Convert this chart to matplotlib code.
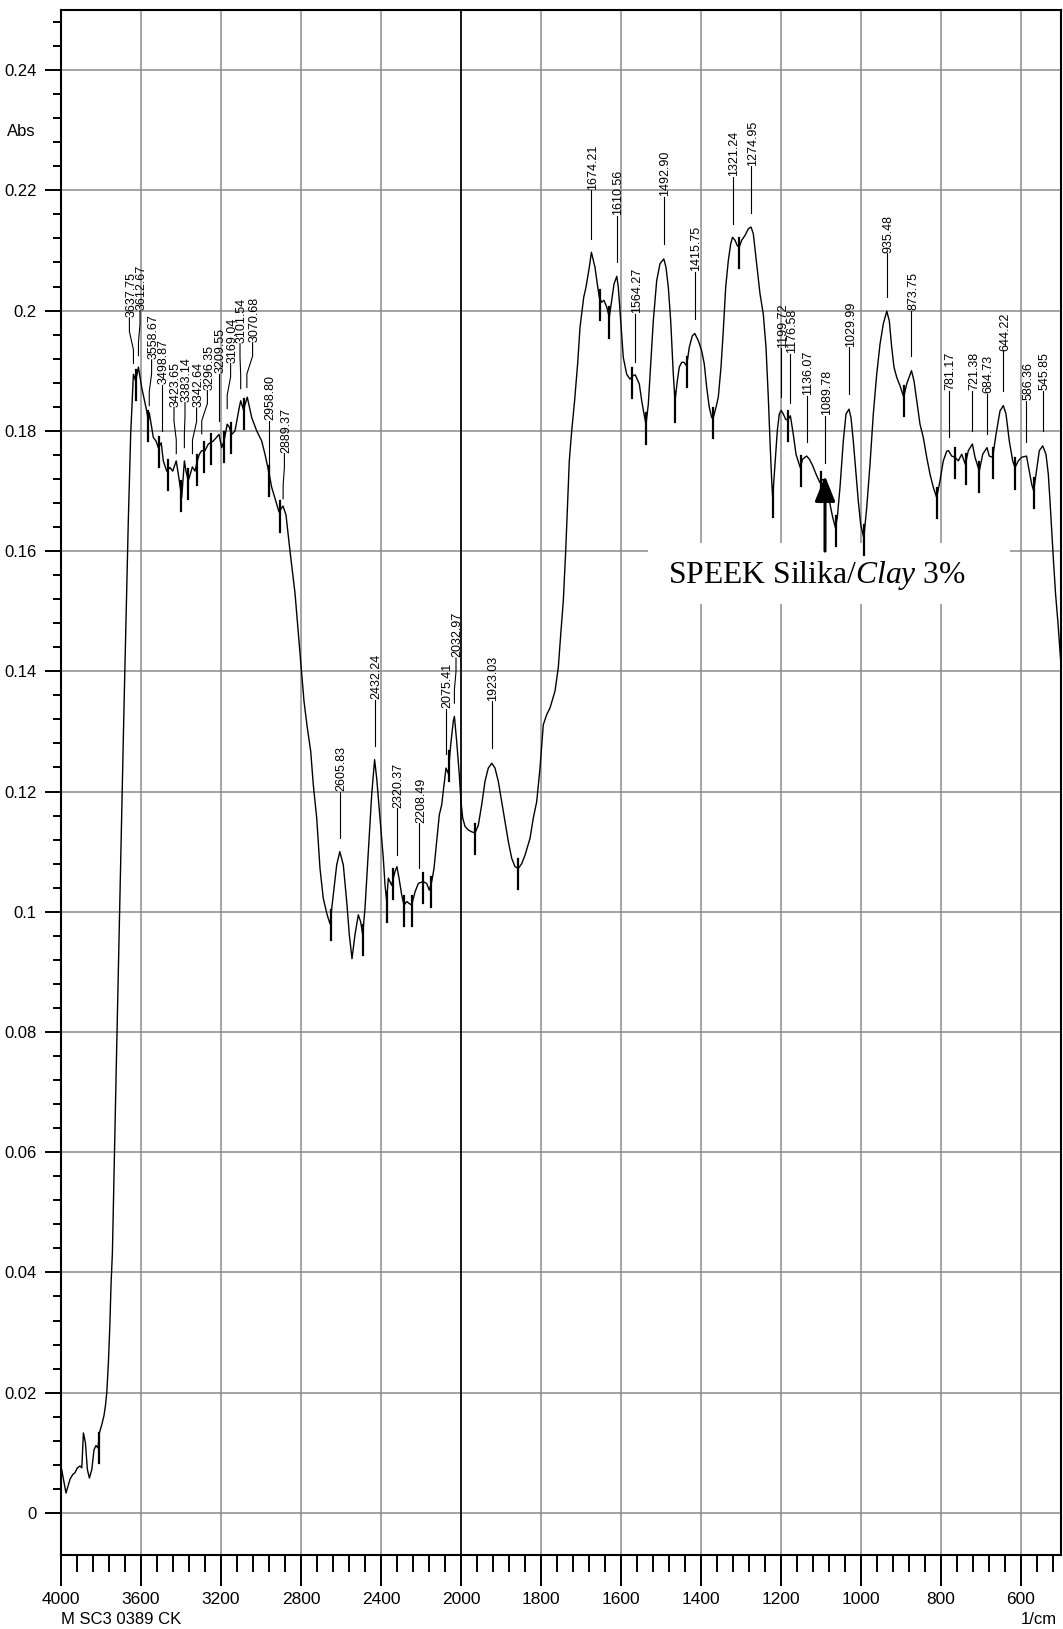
import numpy as np
import matplotlib
matplotlib.use("Agg")
import matplotlib.pyplot as plt
from matplotlib import font_manager
from matplotlib.ticker import FixedLocator, FuncFormatter, NullFormatter
from matplotlib.patches import Rectangle, FancyArrowPatch

# ---------------- data ----------------
wavenumber = [
    3996.5, 3975, 3955, 3941, 3930, 3918, 3905, 3896, 3888, 3878, 3868, 3858, 3846, 3835,
    3825, 3815, 3808, 3796, 3785, 3778, 3771, 3763, 3756, 3750, 3743, 3725, 3705, 3685,
    3663.5, 3651.5, 3638, 3626.5, 3613, 3596.5, 3571.5, 3563.5, 3558.5, 3538.5, 3525,
    3513.5, 3499, 3488.5, 3471.5, 3455, 3441.5, 3424, 3413.5, 3396.5, 3383, 3375, 3363.5,
    3343, 3330, 3318.5, 3308.5, 3296.5, 3280, 3263.5, 3238.5, 3210, 3196.5, 3185, 3169,
    3158.5, 3146.5, 3130, 3108.5, 3101.5, 3087.5, 3068.5, 3046.5, 3021.5, 2996.5, 2980,
    2959, 2946.5, 2921.5, 2910, 2890, 2875, 2855, 2830, 2805, 2785, 2768.5, 2751.5, 2738.5,
    2721.5, 2705, 2688.5, 2668.5, 2655, 2638.5, 2621.5, 2606, 2588.5, 2571.5, 2558.5, 2545,
    2530, 2513.5, 2501.5, 2491.5, 2480, 2463.5, 2446.5, 2432, 2421.5, 2405, 2388.5, 2380,
    2371.5, 2363.5, 2355, 2346.5, 2338.5, 2330, 2320.5, 2310, 2296.5, 2285, 2271.5, 2260,
    2246.5, 2230, 2213.5, 2208.5, 2188.5, 2171.5, 2158.5, 2146.5, 2135, 2121.5, 2108.5,
    2096.5, 2085, 2075, 2063.5, 2051.5, 2038.5, 2033, 2021.5, 2008.5, 2000,
    1995.75, 1990, 1981.75, 1973.25, 1965, 1956.75, 1948.25, 1940, 1931.75, 1923, 1915,
    1906.75, 1898.25, 1890, 1881.75, 1873.25, 1865, 1856.75, 1848.25, 1840, 1827.5,
    1819.25, 1810.75, 1802.5, 1794.25, 1785.75, 1777.5, 1765, 1756.75, 1750.75, 1744.25,
    1738.25, 1733.25, 1729.25, 1723.25, 1716, 1708, 1702.5, 1693.25, 1687.5, 1679.25,
    1674, 1665, 1659.25, 1654.25, 1648.25, 1642.5, 1635.75, 1629.25, 1623.25, 1617.5,
    1610.5, 1606.75, 1600.75, 1594.25, 1585.75, 1577.5, 1569.25, 1564.25, 1554.25,
    1548.25, 1542.5, 1537.5, 1531.75, 1525.75, 1519.25, 1510.75, 1502.5, 1493, 1487.5,
    1481.75, 1475.75, 1469.25, 1465, 1459.25, 1454.25, 1448.25, 1442.5, 1436, 1429.25,
    1421.75, 1415.75, 1406.75, 1398.25, 1391.75, 1385.75, 1379.25, 1373.25, 1369.25,
    1362.5, 1356.75, 1350, 1344.25, 1338.25, 1331.75, 1325.75, 1321.25, 1315, 1309.25,
    1304.25, 1298.25, 1290, 1281.75, 1275, 1269.25, 1260.75, 1252.5, 1244.25, 1237.5,
    1231.75, 1227.5, 1223.25, 1220.75, 1215, 1209.25, 1204.25, 1199.75, 1194.25, 1188.25,
    1183, 1176.5, 1169.25, 1162.5, 1152, 1145.75, 1136, 1129.25, 1120.75, 1112.5, 1103,
    1095.75, 1090, 1084.25, 1077.5, 1070.75, 1064, 1059.25, 1052.5, 1044.25, 1037.5, 1030,
    1025, 1019.25, 1012.5, 1006.75, 1000.75, 993, 985.75, 977.5, 969.25, 960.75, 952.5,
    944.25, 935.5, 929.25, 923.25, 917.5, 910.75, 902.5, 893.25, 885.75, 873.75, 867.5,
    860.75, 852.5, 844.25, 835.75, 827.5, 819.25, 810.75, 802.5, 794.25, 785.75, 781.25,
    773.25, 765, 756.75, 748.25, 739, 731.75, 721.5, 715, 704.25, 695.75, 685, 679.25,
    670.75, 662.5, 652.5, 644.25, 637.5, 629.25, 620.75, 615, 606.75, 598.25, 586.25,
    579.25, 573.25, 568.25, 562.5, 554.25, 545.75, 537.5, 531.75, 527.5, 523.25, 519.25,
    513.75, 507.5, 500,
]
absorbance = [
    0.0072, 0.0033, 0.0056, 0.0064, 0.0067, 0.0075, 0.0078, 0.0075, 0.0133, 0.0117, 0.0072,
    0.0058, 0.0072, 0.0105, 0.0112, 0.0108, 0.0133, 0.0147, 0.0162, 0.0178, 0.0200, 0.0250,
    0.0310, 0.0378, 0.0433, 0.0720, 0.1030, 0.1340,
    0.1650, 0.1795, 0.1894, 0.1883, 0.1906, 0.1872, 0.1833, 0.1817, 0.1830, 0.1789, 0.1783,
    0.1772, 0.1780, 0.1750, 0.1733, 0.1739, 0.1733, 0.1750, 0.1728, 0.1689, 0.1750, 0.1733,
    0.1717, 0.1740, 0.1733, 0.1750, 0.1761, 0.1767, 0.1767, 0.1778, 0.1783, 0.1794, 0.1772,
    0.1783, 0.1811, 0.1806, 0.1794, 0.1800, 0.1839, 0.1850, 0.1835, 0.1856, 0.1822, 0.1800,
    0.1783, 0.1761, 0.1728, 0.1706, 0.1678, 0.1665, 0.1675, 0.1660, 0.1600, 0.1530, 0.1430,
    0.1350, 0.1306, 0.1267, 0.1211, 0.1156, 0.1072, 0.1022, 0.0994, 0.0980, 0.1028, 0.1078,
    0.1100, 0.1078, 0.1017, 0.0962, 0.0922, 0.0962, 0.0995, 0.0983, 0.0962, 0.1006, 0.1100,
    0.1195, 0.1253, 0.1222, 0.1156, 0.1089, 0.1045, 0.1017, 0.1056, 0.1050, 0.1044, 0.1056,
    0.1067, 0.1075, 0.1056, 0.1028, 0.1011, 0.1017, 0.1014, 0.1011, 0.1033, 0.1047, 0.1048,
    0.1050, 0.1047, 0.1036, 0.1050, 0.1072, 0.1117, 0.1161, 0.1178, 0.1211, 0.1239, 0.1230,
    0.1278, 0.1317, 0.1325, 0.1283, 0.1228, 0.1183,
    0.1156, 0.1142, 0.1136, 0.1133, 0.1131, 0.1144, 0.1178, 0.1217, 0.1239, 0.1247, 0.1239,
    0.1217, 0.1183, 0.1150, 0.1117, 0.1089, 0.1075, 0.1072, 0.1080, 0.1094, 0.1122, 0.1156,
    0.1183, 0.1239, 0.1311, 0.1328, 0.1339, 0.1367, 0.1406, 0.1461, 0.1517, 0.1600, 0.1683,
    0.1750, 0.1800, 0.1850, 0.1915, 0.1972, 0.2022, 0.2039, 0.2072, 0.2097, 0.2072, 0.2044,
    0.2022, 0.2014, 0.2017, 0.2006, 0.1989, 0.2017, 0.2044, 0.2057, 0.2039, 0.1983, 0.1922,
    0.1894, 0.1886, 0.1892, 0.1893, 0.1878, 0.1850, 0.1828, 0.1811, 0.1844, 0.1911, 0.1983,
    0.2050, 0.2078, 0.2086, 0.2072, 0.2039, 0.1983, 0.1894, 0.1850, 0.1883, 0.1906, 0.1914,
    0.1914, 0.1908, 0.1939, 0.1958, 0.1962, 0.1950, 0.1933, 0.1911, 0.1872, 0.1839, 0.1822,
    0.1822, 0.1839, 0.1856, 0.1906, 0.1967, 0.2039, 0.2083, 0.2111, 0.2122, 0.2117, 0.2108,
    0.2106, 0.2117, 0.2125, 0.2136, 0.2139, 0.2128, 0.2078, 0.2028, 0.1994, 0.1939, 0.1856,
    0.1783, 0.1717, 0.1689, 0.1744, 0.1800, 0.1828, 0.1834, 0.1828, 0.1819, 0.1818, 0.1825,
    0.1794, 0.1761, 0.1739, 0.1753, 0.1758, 0.1753, 0.1742, 0.1728, 0.1714, 0.1719, 0.1719,
    0.1706, 0.1678, 0.1656, 0.1639, 0.1656, 0.1706, 0.1783, 0.1828, 0.1836, 0.1822, 0.1783,
    0.1728, 0.1683, 0.1644, 0.1622, 0.1672, 0.1744, 0.1828, 0.1894, 0.1944, 0.1978, 0.1999,
    0.1983, 0.1939, 0.1906, 0.1889, 0.1875, 0.1856, 0.1878, 0.1900, 0.1883, 0.1850, 0.1811,
    0.1789, 0.1756, 0.1728, 0.1706, 0.1689, 0.1717, 0.1750, 0.1766, 0.1767, 0.1758, 0.1756,
    0.1750, 0.1761, 0.1744, 0.1767, 0.1778, 0.1756, 0.1733, 0.1761, 0.1772, 0.1758, 0.1756,
    0.1794, 0.1833, 0.1842, 0.1828, 0.1783, 0.1750, 0.1739, 0.1750, 0.1756, 0.1758, 0.1733,
    0.1711, 0.1700, 0.1728, 0.1767, 0.1775, 0.1761, 0.1728, 0.1683, 0.1633, 0.1589, 0.1530,
    0.1480, 0.1410,
]

# peak labels: value text, x of label (cm-1), label base height, leader end height
peak_labels = ["3637.75", "3612.67", "3558.67", "3498.87", "3423.65", "3383.14", "3342.64",
               "3296.35", "3209.55", "3169.04", "3101.54", "3070.68", "2958.80", "2889.37",
               "2605.83", "2432.24", "2320.37", "2208.49", "2075.41", "2032.97", "1923.03",
               "1674.21", "1610.56", "1564.27", "1492.90", "1415.75", "1321.24", "1274.95",
               "1199.72", "1176.58", "1136.07", "1089.78", "1029.99", "935.48", "873.75",
               "781.17", "721.38", "684.73", "644.22", "586.36", "545.85"]
label_x = [3658, 3605, 3547, 3497, 3435, 3380, 3322, 3268, 3212, 3152, 3105, 3042, 2960, 2883,
           2605, 2432, 2320, 2208, 2077, 2025, 1923,
           1674, 1610.5, 1564, 1493, 1416, 1321, 1275, 1200, 1177, 1136, 1090, 1030, 935.5,
           874, 781, 721.5, 685, 644, 586.5, 546]
label_base = [0.1988, 0.2000, 0.1918, 0.1877, 0.1839, 0.1847, 0.1838, 0.1867, 0.1895, 0.1912,
              0.1945, 0.1947, 0.1817, 0.1762, 0.1200, 0.1352, 0.1172, 0.1147, 0.1337, 0.1422,
              0.1350, 0.2200, 0.2158, 0.1995, 0.2189, 0.2064, 0.2222, 0.2240, 0.1937, 0.1928,
              0.1858, 0.1825, 0.1939, 0.2095, 0.2000, 0.1867, 0.1867, 0.1861, 0.1932, 0.1850,
              0.1867]
leader_end = [0.1912, 0.1925, 0.1842, 0.1800, 0.1762, 0.1772, 0.1762, 0.1795, 0.1817, 0.1837,
              0.1870, 0.1872, 0.1695, 0.1687, 0.1122, 0.1275, 0.1095, 0.1072, 0.1262, 0.1347,
              0.1272, 0.2119, 0.2081, 0.1914, 0.2111, 0.1986, 0.2144, 0.2162, 0.1856, 0.1847,
              0.1781, 0.1747, 0.1861, 0.2022, 0.1925, 0.1789, 0.1800, 0.1794, 0.1867, 0.1781,
              0.1800]

valley_marks = [3812, 3625, 3563, 3508, 3463, 3402, 3367, 3322, 3285, 3252, 3185, 3150, 3085,
                2958, 2905, 2652, 2492, 2372, 2338, 2285, 2247, 2192, 2152, 2058, 1965, 1857,
                1652, 1629, 1573, 1537, 1465, 1436, 1369, 1304, 1221, 1183, 1150, 1100, 1063,
                992, 892, 811, 765, 738, 704, 671, 615, 567]

x_major = [4000, 3600, 3200, 2800, 2400, 2000, 1800, 1600, 1400, 1200, 1000, 800, 600]
y_major = [0, 0.02, 0.04, 0.06, 0.08, 0.10, 0.12, 0.14, 0.16, 0.18, 0.20, 0.22, 0.24]

# ---------------- fonts ----------------
names = {f.name for f in font_manager.fontManager.ttflist}
NARROW = "Liberation Sans Narrow" if "Liberation Sans Narrow" in names else "Liberation Sans"
plt.rcParams["font.family"] = ["Liberation Sans", "DejaVu Sans"]
plt.rcParams["mathtext.fontset"] = "custom"
plt.rcParams["mathtext.rm"] = "Liberation Serif"
plt.rcParams["mathtext.it"] = "Liberation Serif:italic"

W, H = 1063, 1629
fig = plt.figure(figsize=(W / 100, H / 100), dpi=100)
ax = fig.add_axes([61 / W, 1 - 1555 / H, (1061 - 61) / W, (1555 - 10) / H])


def fwd(x):
    x = np.asarray(x, dtype=float)
    return np.where(x > 2000, 2000 + (x - 2000) / 2.0, x)


def inv(u):
    u = np.asarray(u, dtype=float)
    return np.where(u > 2000, 2000 + (u - 2000) * 2.0, u)


ax.set_xscale("function", functions=(fwd, inv))
ax.set_xlim(4000, 500)
ax.set_ylim(-0.007, 0.25)

# ticks
x_minor = [v for v in range(4000, 2000, -80)] + [v for v in range(2000, 499, -40)]
x_minor = [v for v in x_minor if v not in x_major]
ax.xaxis.set_major_locator(FixedLocator(x_major))
ax.xaxis.set_minor_locator(FixedLocator(x_minor))
ax.xaxis.set_major_formatter(FuncFormatter(lambda v, p: f"{int(round(v))}"))
ax.xaxis.set_minor_formatter(NullFormatter())
y_minor = [round(i * 0.004, 4) for i in range(0, 63)]
y_minor = [v for v in y_minor if all(abs(v - m) > 1e-6 for m in y_major)]
ax.yaxis.set_major_locator(FixedLocator(y_major))
ax.yaxis.set_minor_locator(FixedLocator(y_minor))
ax.yaxis.set_major_formatter(FuncFormatter(lambda v, p: f"{v:g}"))

ax.tick_params(axis="x", which="major", direction="out", length=22, width=1.4, pad=5,
               labelsize=12.5)
ax.tick_params(axis="x", which="minor", direction="out", length=12, width=1.4)
ax.tick_params(axis="y", which="major", direction="out", length=11.5, width=1.4, pad=6,
               labelsize=12)
ax.tick_params(axis="y", which="minor", direction="out", length=5.8, width=1.4)
for lab in ax.get_xticklabels() + ax.get_yticklabels():
    lab.set_fontfamily(NARROW)

for s in ax.spines.values():
    s.set_linewidth(1.5)

ax.set_axisbelow(True)
ax.grid(True, which="major", color="#8a8a8a", linewidth=1.1, zorder=0)
ax.axvline(2000, color="black", linewidth=1.2, zorder=0.6)

# white text panel
ax.add_patch(Rectangle((627.5, 0.1512), 1532 - 627.5, 0.1613 - 0.1512, facecolor="white",
                       edgecolor="none", zorder=1.5))

# spectrum
ax.plot(wavenumber, absorbance, color="black", linewidth=1.0, zorder=3)

# valley markers
vm_y = np.interp(valley_marks, wavenumber[::-1], absorbance[::-1])
for xv, yv in zip(valley_marks, vm_y):
    ax.plot([xv, xv], [yv - 0.0035, yv + 0.0015], color="black", linewidth=1.6, zorder=3)

# peak labels with leader lines
for txt, lx, base, end in zip(peak_labels, label_x, label_base, leader_end):
    px = float(txt)
    L = base - end
    if abs(lx - px) < 3:
        xs, ys = [lx, lx], [base, end]
    else:
        xs = [lx, lx, px, px]
        ys = [base, base - 0.3 * L, end + 0.3 * L, end]
    ax.plot(xs, ys, color="black", linewidth=0.8, zorder=3)
    ax.annotate(txt, xy=(lx, base), xytext=(1.2, 0.5), textcoords="offset points",
                rotation=90, ha="center", va="bottom", fontsize=9.0,
                fontfamily="Liberation Sans", zorder=4)

# arrow + caption
arr = FancyArrowPatch((1090, 0.1600), (1090, 0.1725),
                      arrowstyle="-|>,head_length=0.7,head_width=0.28",
                      mutation_scale=22, linewidth=2.2, color="black",
                      shrinkA=0, shrinkB=0, zorder=5)
ax.add_patch(arr)
ax.text(1482, 0.1547, r"SPEEK Silika/$\mathit{Clay}$ 3%", fontsize=22.8,
        fontfamily="Liberation Serif", ha="left", va="baseline", zorder=5)

# axis annotations
fig.text(36 / W, 1 - 132 / H, "Abs", ha="right", va="center", fontsize=12,
         fontfamily=NARROW)
fig.text(61 / W, 1 - 1619 / H, "M SC3 0389 CK", ha="left", va="center", fontsize=12,
         fontfamily=NARROW)
fig.text(1057 / W, 1 - 1619 / H, "1/cm", ha="right", va="center", fontsize=12,
         fontfamily=NARROW)

fig.savefig("out.png", dpi=100)
